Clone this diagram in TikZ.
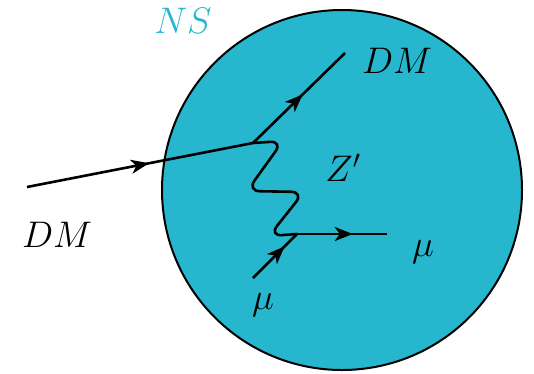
\RequirePackage{fix-cm}
\documentclass[tikz,border=0pt]{standalone}
\usetikzlibrary{arrows.meta,decorations.markings}
\definecolor{nscol}{RGB}{38,183,207}
\begin{document}
\begin{tikzpicture}[x=1pt,y=-1pt,
  fermion/.style={line width=2.6pt, postaction={decorate},
    decoration={markings, mark=at position #1 with {\arrow{Stealth[length=18pt,width=14pt,inset=5pt]}}}},
  fermion/.default=0.55,
  boson/.style={line width=2.6pt, rounded corners=13pt},
  lbl/.style={inner sep=0pt, font=\fontsize{37}{40}\selectfont}]
\useasboundingbox (0,0) rectangle (534,373);
\node[circle, draw=black, line width=2pt, fill=nscol, minimum size=360pt, inner sep=0pt] (star) at (342,190) {};
\coordinate (in) at (27,187);
\coordinate (v1) at (253,143);
\coordinate (out) at (345,53);
\coordinate (v2) at (297,234);
\coordinate (muout) at (387,234);
\coordinate (muin) at (253,278);
\draw[fermion=0.54] (in) -- (v1);
\draw[fermion=0.54] (v1) -- (out);
\draw[boson] (v1) -- (283,141) -- (247,191) -- (304,192) -- (269,236) -- (v2);
\draw[fermion=0.62] (v2) -- (muout);
\draw[fermion=0.72] (muin) -- (v2);
\node[lbl, text=nscol] (ns) at (183,21) {$NS$};
\node[lbl] (dmout) at (397,61) {$DM$};
\node[lbl] (dmin) at (57,235) {$DM$};
\node[lbl] (zp) at (343,168) {$Z'$};
\node[lbl] (mur) at (423,252) {$\mu$};
\node[lbl] (mub) at (263,305) {$\mu$};
\end{tikzpicture}
\end{document}
